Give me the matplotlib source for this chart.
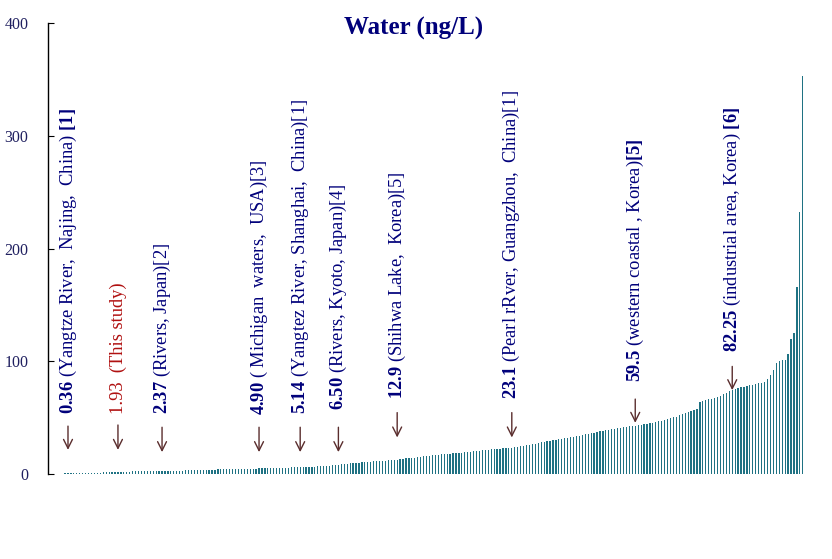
import numpy as np
import matplotlib
matplotlib.use('Agg')
import matplotlib.pyplot as plt

plt.rcParams['font.family'] = ['Liberation Serif', 'DejaVu Serif']
plt.rcParams['mathtext.fontset'] = 'custom'
plt.rcParams['mathtext.rm'] = 'Liberation Serif'
plt.rcParams['mathtext.bf'] = 'Liberation Serif:bold'

# sorted concentrations (ng/L), one bar per sample
conc = [
    0.30, 0.32, 0.36, 0.40, 0.45, 0.50, 0.55, 0.60,
    0.70, 0.80, 0.85, 0.90, 1.00, 1.05, 1.10, 1.20,
    1.25, 1.30, 1.40, 1.50, 1.55, 1.60, 1.70, 1.93,
    1.95, 2.00, 2.05, 2.10,
    2.30, 2.35, 2.37, 2.40, 2.45, 2.50, 2.55, 2.60,
    2.65, 2.70, 2.75, 2.80, 2.85, 2.90, 2.95, 3.00,
    3.05, 3.10, 3.15, 3.20, 3.30, 3.40, 3.50, 3.60,
    3.70, 3.80, 3.85, 3.90, 4.00, 4.10, 4.20, 4.30,
    4.40, 4.45, 4.50, 4.55, 4.60, 4.65, 4.70, 4.75,
    4.80, 4.85, 4.90,
    4.95, 5.00, 5.05, 5.10, 5.14, 5.20, 5.30, 5.40,
    5.50, 5.60, 5.70, 5.80, 5.90, 6.00, 6.10, 6.20,
    6.30, 6.40, 6.50, 6.60, 6.70, 6.90, 7.10, 7.30,
    7.50, 7.70, 7.90, 8.20,
    8.5, 8.8, 9.2, 9.5, 9.8, 10.0, 10.2, 10.4,
    10.6, 10.8, 11.0, 11.2, 11.4, 11.6, 11.8, 12.0,
    12.2, 12.4, 12.6, 12.9,
    13.2, 13.5, 13.8, 14.0, 14.3, 14.6, 15.0, 15.3,
    15.6, 16.0, 16.3, 16.6, 16.9, 17.2, 17.5, 17.8,
    18.0, 18.2, 18.4, 18.6, 18.8, 19.0, 19.2, 19.5,
    19.8, 20.1, 20.4, 20.7, 21.0, 21.3, 21.6, 21.9,
    22.1, 22.3, 22.5, 22.7, 22.9, 23.0, 23.1,
    23.6, 24.1, 24.6, 25.1, 25.6, 26.1, 26.6, 27.1,
    27.6, 28.1, 28.6, 29.1, 29.6, 30.0, 30.4, 30.8,
    31.2, 31.7, 32.2, 32.7, 33.2, 33.7, 34.2, 34.7,
    35.2, 35.7, 36.2, 36.7, 37.2, 37.8, 38.4, 39.0,
    39.5, 40.0, 40.4, 40.8, 41.2, 41.6, 42.0, 42.3, 42.6,
    42.8, 43.2, 43.6, 44.0, 44.4, 45.0, 45.5, 46.0,
    46.8, 47.5, 48.0, 48.7, 49.4, 50.2, 51.0, 52.0,
    53.0, 54.0, 55.0, 56.0, 57.0, 58.0, 64.0, 65.0,
    66.0, 66.5, 67.0, 67.5, 68.0, 69.5, 71.0, 72.0,
    73.5, 74.5, 75.5, 76.5, 77.0, 77.6, 78.0, 78.6,
    79.2, 80.0, 80.5, 81.0, 81.5, 84.0, 88.0, 92.0,
    99.0, 100.0, 101.0, 101.5, 107.0, 120.0, 125.0, 166.0,
    233.0, 353.0,
]

# literature values marked on the chart
ann_num = ['0.36', '1.93', '2.37', '4.90', '5.14', '6.50', '12.9', '23.1', '59.5', '82.25']
ann_txt = [
    ' (Yangtze River,  Najing,  China) $\\mathbf{[1]}$',
    '  (This study)',
    ' (Rivers, Japan)[2]',
    ' ( Michigan  waters,  USA)[3]',
    ' (Yangtez River, Shanghai,  China)[1]',
    ' (Rivers, Kyoto, Japan)[4]',
    ' (Shihwa Lake,  Korea)[5]',
    ' (Pearl rRver, Guangzhou,  China)[1]',
    ' (western coastal , Korea)$\\mathbf{[5]}$',
    ' (industrial area, Korea) $\\mathbf{[6]}$',
]
ann_bar = [6, 23, 38, 71, 85, 98, 118, 157, 199, 232]

# layout: arrow tip / tail and text base (in ng/L units)
arrow_tip = [19, 19, 17, 17, 17, 17, 30, 30, 43, 72]
arrow_tail = [45, 46, 44, 44, 44, 44, 57, 57, 69, 98]
text_base = [53, 53, 53, 52, 53, 57, 67, 67, 82, 108]

navy = '#00007a'
red = '#b01010'
bar_color = '#1f7283'

fig = plt.figure(figsize=(8.32, 5.59), dpi=100)
ax = fig.add_axes([0.0577, 0.152, 0.91, 0.806])

x = np.arange(len(conc))
ax.bar(x, conc, width=0.42, color=bar_color, linewidth=0)

for k in range(len(ann_num)):
    i = ann_bar[k]
    ax.annotate('', xy=(i, arrow_tip[k]), xytext=(i, arrow_tail[k]),
                arrowprops=dict(arrowstyle='->', color='#5a2d2d', lw=1.0,
                                mutation_scale=16))
    if ann_num[k] == '1.93':
        s = ann_num[k] + ann_txt[k]
        col = red
    else:
        s = '$\\mathbf{' + ann_num[k] + '}$' + ann_txt[k]
        col = navy
    ax.text(i, text_base[k], s, rotation=90, ha='center', va='bottom',
            color=col, fontsize=13.3)

ax.set_xlim(-0.8, len(conc) - 0.2)
ax.set_ylim(0, 400)
ax.set_yticks([0, 100, 200, 300, 400])
ax.set_xticks([])
ax.tick_params(axis='y', direction='in', length=4, pad=14, labelsize=11.5,
               labelcolor='#202060')
for side in ['top', 'right', 'bottom']:
    ax.spines[side].set_visible(False)
ax.spines['left'].set_linewidth(1.0)

fig.text(0.497, 0.949, 'Water (ng/L)', ha='center', va='center',
         fontsize=18, fontweight='bold', color=navy)

fig.savefig('out.png', dpi=100)
